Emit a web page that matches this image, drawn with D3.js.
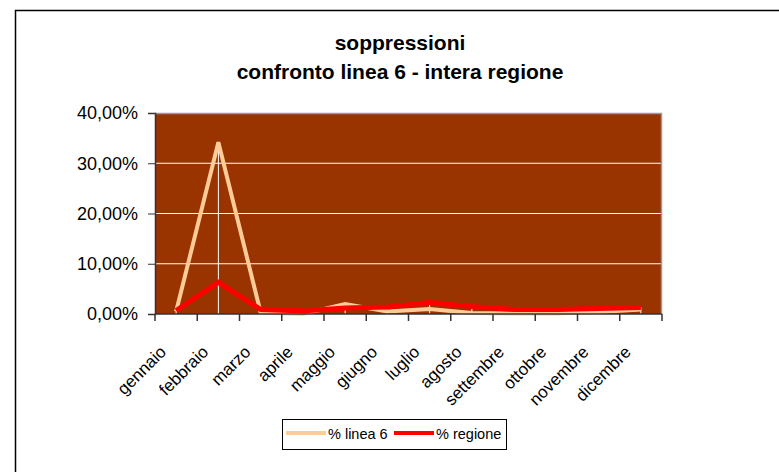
<!DOCTYPE html>
<html>
<head>
<meta charset="utf-8">
<script src="https://cdn.jsdelivr.net/npm/d3@7"></script>
<style>
  body { margin: 0; background: #fff; }
  text { font-family: "Liberation Sans", Arial, sans-serif; fill: #000; }
</style>
</head>
<body>
<div id="chart"></div>
<script>
// data
const months = ['gennaio', 'febbraio', 'marzo', 'aprile', 'maggio', 'giugno',
                'luglio', 'agosto', 'settembre', 'ottobre', 'novembre', 'dicembre'];
const linea6 = [0.005, 0.342, 0.003, 0.000, 0.020, 0.005, 0.010, 0.002, 0.001, 0.001, 0.004, 0.009];
const regione = [0.007, 0.063, 0.009, 0.006, 0.012, 0.014, 0.023, 0.015, 0.009, 0.009, 0.011, 0.013];
const yTicks = [0, 0.1, 0.2, 0.3, 0.4];
const titleLines = ['soppressioni', 'confronto linea 6 - intera regione'];
const seriesNames = ['% linea 6', '% regione'];

const W = 779, H = 472;
const margin = {top: 113, right: 117, bottom: 158, left: 155};
const width = W - margin.left - margin.right;
const height = H - margin.top - margin.bottom;

const locale = d3.formatLocale({decimal: ',', thousands: '.', grouping: [3], currency: ['€', '']});
const pct = locale.format('.2%');

const svg = d3.select('#chart').append('svg')
    .attr('width', W)
    .attr('height', H);

// outer chart frame (runs off the right/bottom edge in the reference)
svg.append('rect')
    .attr('x', 15.5).attr('y', 10.5)
    .attr('width', 820).attr('height', 520)
    .attr('fill', 'none')
    .attr('stroke', '#000')
    .attr('stroke-width', 1.5);

// title
svg.append('g').selectAll('text')
    .data(titleLines)
    .join('text')
    .attr('x', 400)
    .attr('y', (d, i) => 50 + i * 29)
    .attr('text-anchor', 'middle')
    .style('font-size', '21px')
    .style('font-weight', 'bold')
    .text(d => d);

const g = svg.append('g')
    .attr('transform', 'translate(' + margin.left + ',' + margin.top + ')');

const xBand = d3.scaleBand().domain(months).range([0, width]);
const xScale = d3.scalePoint().domain(months).range([0, width]).padding(0.5);
const yScale = d3.scaleLinear().domain([0, 0.4]).range([height, 0]);

// plot background
g.append('rect')
    .attr('width', width).attr('height', height)
    .attr('fill', '#993300');

// gridlines
g.append('g').selectAll('line')
    .data(yTicks.slice(1, -1))
    .join('line')
    .attr('x1', 0).attr('x2', width)
    .attr('y1', d => yScale(d)).attr('y2', d => yScale(d))
    .attr('stroke', '#fff')
    .attr('stroke-width', 1);

// plot border top/right
g.append('path')
    .attr('d', 'M0,0.5H' + (width - 0.5) + 'V' + height)
    .attr('fill', 'none')
    .attr('stroke', '#9a9a9a')
    .attr('stroke-width', 1.5);

// drop lines from the highest point of each month down to the axis
g.append('g').selectAll('line')
    .data(months)
    .join('line')
    .attr('x1', d => xScale(d)).attr('x2', d => xScale(d))
    .attr('y1', (d, i) => yScale(Math.max(linea6[i], regione[i])))
    .attr('y2', height)
    .attr('stroke', '#fff')
    .attr('stroke-width', 1);

const line = d3.line()
    .x((d, i) => xScale(months[i]))
    .y(d => yScale(d));

g.append('path')
    .datum(linea6)
    .attr('d', line)
    .attr('fill', 'none')
    .attr('stroke', '#ffcc99')
    .attr('stroke-width', 4);

g.append('path')
    .datum(regione)
    .attr('d', line)
    .attr('fill', 'none')
    .attr('stroke', '#ff0000')
    .attr('stroke-width', 5);

// y axis
const yAxis = g.append('g')
    .call(d3.axisLeft(yScale).tickValues(yTicks).tickFormat(pct).tickSize(7).tickPadding(10));
yAxis.select('.domain').attr('stroke', '#333').attr('stroke-width', 1.5);
yAxis.selectAll('.tick line').attr('stroke', '#333');
yAxis.selectAll('.tick text')
    .style('font-size', '18px')
    .attr('font-family', null);

// x axis: ticks at band edges
const xAxisG = g.append('g')
    .attr('transform', 'translate(0,' + height + ')');
xAxisG.append('line')
    .attr('x1', 0).attr('x2', width)
    .attr('stroke', '#333').attr('stroke-width', 1.5);
xAxisG.selectAll('.edge')
    .data(months.map(m => xBand(m)).concat([width]))
    .join('line')
    .attr('class', 'edge')
    .attr('x1', d => d).attr('x2', d => d)
    .attr('y1', 0).attr('y2', 7)
    .attr('stroke', '#333').attr('stroke-width', 1.5);
xAxisG.selectAll('.lbl')
    .data(months)
    .join('text')
    .attr('class', 'lbl')
    .attr('text-anchor', 'end')
    .attr('transform', d => 'translate(' + (xScale(d) - 9) + ',' + 39 + ') rotate(-45)')
    .style('font-size', '17px')
    .text(d => d);

// legend
const legend = svg.append('g');
legend.append('rect')
    .attr('x', 282.5).attr('y', 419.5)
    .attr('width', 224).attr('height', 30)
    .attr('fill', '#fff')
    .attr('stroke', '#000')
    .attr('stroke-width', 1);
const legendColors = ['#ffcc99', '#ff0000'];
const legendX = [286, 394];
seriesNames.forEach((name, i) => {
    legend.append('line')
        .attr('x1', legendX[i]).attr('x2', legendX[i] + 40)
        .attr('y1', 433).attr('y2', 433)
        .attr('stroke', legendColors[i])
        .attr('stroke-width', 4);
    legend.append('text')
        .attr('x', legendX[i] + 42)
        .attr('y', 438.5)
        .style('font-size', '14.5px')
        .text(name);
});
</script>
</body>
</html>
